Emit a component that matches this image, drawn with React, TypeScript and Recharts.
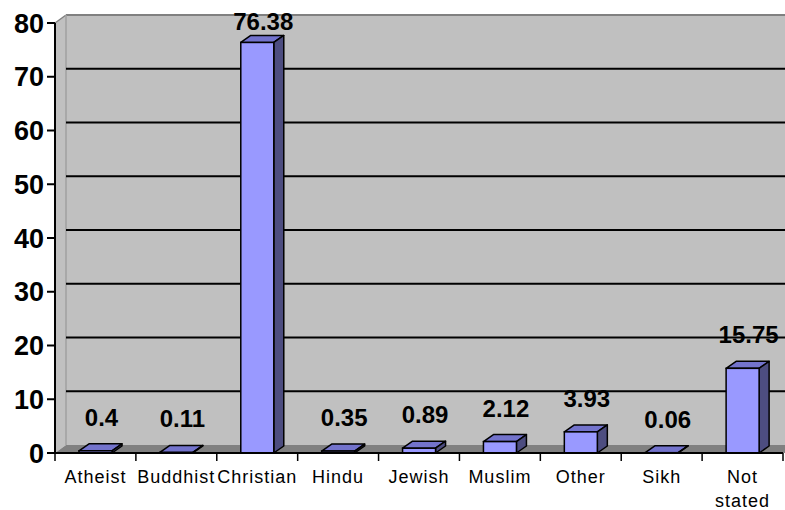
import React from 'react';
import { BarChart, Bar, XAxis, YAxis, CartesianGrid, LabelList } from 'recharts';

// Religion breakdown, percent of population
const religions = ['Atheist', 'Buddhist', 'Christian', 'Hindu', 'Jewish', 'Muslim', 'Other', 'Sikh', 'Not stated'];
const percentages = [0.4, 0.11, 76.38, 0.35, 0.89, 2.12, 3.93, 0.06, 15.75];
const yTicks = [0, 10, 20, 30, 40, 50, 60, 70, 80];

const data = religions.map((name, i) => ({ name, value: percentages[i] }));

// chart geometry
const W = 785;
const H = 510;
const PLOT_LEFT = 55;
const PLOT_TOP = 23;
const PLOT_RIGHT = 783;
const PLOT_BOTTOM = 453;
const X_AXIS_H = 50;
const WALL_DX = 11;
const WALL_DY = 8;
const BAR_DX = 10;
const BAR_DY = 7;
const BAND = (PLOT_RIGHT - PLOT_LEFT) / religions.length;
const Y_MAX = yTicks[yTicks.length - 1];

const FONT = '"Liberation Sans", Arial, sans-serif';

// gridlines sit on the back wall, shifted up by the wall depth
const gridPoints = yTicks
  .filter(t => t > 0 && t < Y_MAX)
  .map(t => PLOT_TOP + (PLOT_BOTTOM - PLOT_TOP) * (1 - t / Y_MAX) - WALL_DY);

const Bar3D = (props: any) => {
  const { x, y, width, height } = props;
  const b = y + height;
  return (
    <g>
      <path
        d={`M${x},${y} L${x + BAR_DX},${y - BAR_DY} L${x + width + BAR_DX},${y - BAR_DY} L${x + width},${y} Z`}
        fill="#7373CC"
        stroke="#000"
        strokeWidth={1.5}
        strokeLinejoin="round"
      />
      <path
        d={`M${x + width},${y} L${x + width + BAR_DX},${y - BAR_DY} L${x + width + BAR_DX},${b - BAR_DY} L${x + width},${b} Z`}
        fill="#4D4D80"
        stroke="#000"
        strokeWidth={1.5}
        strokeLinejoin="round"
      />
      <rect x={x} y={y} width={width} height={height} fill="#9999FF" stroke="#000" strokeWidth={1.5} />
    </g>
  );
};

const ValueLabel = (props: any) => {
  const vb = props.viewBox || {};
  const x = props.x ?? vb.x;
  const y = props.y ?? vb.y;
  const width = props.width ?? vb.width;
  const cy = Math.max(y - 33, 22);
  return (
    <text
      x={x + width / 2 + 6}
      y={cy}
      dy={8}
      textAnchor="middle"
      fontFamily={FONT}
      fontWeight="bold"
      fontSize={24}
      fill="#000"
    >
      {props.value}
    </text>
  );
};

const CategoryTick = (props: any) => {
  const { x, y, payload, index } = props;
  const words = String(payload.value).split(' ');
  const isLast = index === religions.length - 1;
  return (
    <g>
      <line x1={x - BAND / 2} x2={x - BAND / 2} y1={y} y2={y + 8} stroke="#000" strokeWidth={1.5} />
      {isLast && <line x1={x + BAND / 2} x2={x + BAND / 2} y1={y} y2={y + 8} stroke="#000" strokeWidth={1.5} />}
      {words.map((w, i) => (
        <text
          key={w}
          x={x}
          y={y + 30 + i * 24}
          textAnchor="middle"
          fontFamily={FONT}
          fontSize={18}
          letterSpacing={1}
          fill="#000"
        >
          {w}
        </text>
      ))}
    </g>
  );
};

const Walls = () => {
  const wallLeft = PLOT_LEFT + WALL_DX;
  const wallTop = PLOT_TOP - WALL_DY;
  const floorTop = PLOT_BOTTOM - WALL_DY;
  return (
    <svg width={W} height={H} style={{ position: 'absolute', left: 0, top: 0 }}>
      <rect x={wallLeft} y={wallTop} width={W - wallLeft} height={floorTop - wallTop} fill="#C0C0C0" />
      <polygon
        points={`${PLOT_LEFT},${PLOT_TOP} ${wallLeft},${wallTop} ${wallLeft},${floorTop} ${PLOT_LEFT},${PLOT_BOTTOM}`}
        fill="#C0C0C0"
      />
      <polygon
        points={`${PLOT_LEFT},${PLOT_BOTTOM} ${wallLeft},${floorTop} ${W},${floorTop} ${W},${PLOT_BOTTOM}`}
        fill="#808080"
      />
      <line x1={wallLeft} x2={W} y1={wallTop} y2={wallTop} stroke="#808080" strokeWidth={2} />
      <line x1={PLOT_LEFT} x2={wallLeft} y1={PLOT_TOP} y2={wallTop} stroke="#808080" strokeWidth={1.5} />
      <line x1={wallLeft} x2={wallLeft} y1={wallTop} y2={floorTop} stroke="#A0A0A0" strokeWidth={1.5} />
    </svg>
  );
};

export default function App() {
  return (
    <div style={{ position: 'relative', width: W, height: H, background: '#fff' }}>
      <style>{'body{margin:0}'}</style>
      <Walls />
      <div style={{ position: 'absolute', left: 0, top: 0 }}>
        <BarChart
          width={W}
          height={H}
          data={data}
          margin={{ top: PLOT_TOP, right: W - PLOT_RIGHT, bottom: H - PLOT_BOTTOM - X_AXIS_H, left: 0 }}
        >
          <CartesianGrid
            vertical={false}
            horizontalPoints={gridPoints}
            x={PLOT_LEFT + WALL_DX}
            width={W - PLOT_LEFT - WALL_DX}
            stroke="#000"
            strokeWidth={2}
            strokeDasharray=""
          />
          <XAxis
            dataKey="name"
            height={X_AXIS_H}
            interval={0}
            tickLine={false}
            tickSize={0}
            tickMargin={0}
            axisLine={{ stroke: '#000', strokeWidth: 2 }}
            tick={<CategoryTick />}
          />
          <YAxis
            width={PLOT_LEFT}
            domain={[0, Y_MAX]}
            ticks={yTicks}
            interval={0}
            tickSize={8}
            tickMargin={3}
            axisLine={{ stroke: '#000', strokeWidth: 2 }}
            tickLine={{ stroke: '#000', strokeWidth: 2 }}
            tick={{ fill: '#000', fontSize: 27, fontWeight: 'bold', fontFamily: FONT }}
          />
          <Bar dataKey="value" barSize={33} shape={<Bar3D />} isAnimationActive={false}>
            <LabelList dataKey="value" content={<ValueLabel />} />
          </Bar>
        </BarChart>
      </div>
    </div>
  );
}
